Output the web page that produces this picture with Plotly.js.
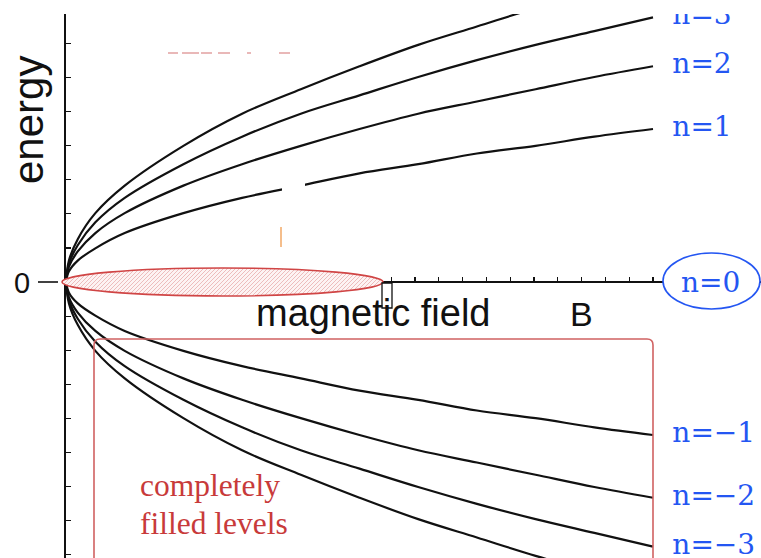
<!DOCTYPE html>
<html>
<head>
<meta charset="utf-8">
<script src="https://cdn.plot.ly/plotly-3.0.1.min.js"></script>
<style>
  html, body { margin: 0; padding: 0; background: #fff; }
  #chart { width: 761px; height: 558px; }
</style>
</head>
<body>
<div id="chart"></div>
<script>
// Landau-level energies versus magnetic field (B normalised to 1 at the right end)
const B = [0, 0.005, 0.02, 0.05, 0.1, 0.2, 0.3, 0.4, 0.5, 0.6, 0.7, 0.8, 0.9, 1.0];

const E_p1 = [0, 0.07, 0.14, 0.22, 0.32, 0.45, 0.55, 0.63, 0.71, 0.77, 0.84, 0.89, 0.95, 1.00];
const E_p2 = [0, 0.10, 0.20, 0.32, 0.45, 0.63, 0.77, 0.89, 1.00, 1.10, 1.18, 1.26, 1.34, 1.41];
const E_p3 = [0, 0.12, 0.24, 0.39, 0.55, 0.77, 0.95, 1.10, 1.22, 1.34, 1.45, 1.55, 1.64, 1.73];
const E_p4 = [0, 0.14, 0.28, 0.45, 0.63, 0.89, 1.10, 1.26, 1.41, 1.55, 1.67, 1.79, 1.90, 2.00];

const E_m1 = [0, -0.07, -0.14, -0.22, -0.32, -0.45, -0.55, -0.63, -0.71, -0.77, -0.84, -0.89, -0.95, -1.00];
const E_m2 = [0, -0.10, -0.20, -0.32, -0.45, -0.63, -0.77, -0.89, -1.00, -1.10, -1.18, -1.26, -1.34, -1.41];
const E_m3 = [0, -0.12, -0.24, -0.39, -0.55, -0.77, -0.95, -1.10, -1.22, -1.34, -1.45, -1.55, -1.64, -1.73];
const E_m4 = [0, -0.14, -0.28, -0.45, -0.63, -0.89, -1.10, -1.26, -1.41, -1.55, -1.67, -1.79, -1.90, -2.00];

const levelSeries = [E_p1, E_p2, E_p3, E_p4, E_m1, E_m2, E_m3, E_m4];

// level labels at the right-hand end of the drawn curves
const labelText = ['n=1', 'n=2', 'n=3', 'n=\u22121', 'n=\u22122', 'n=\u22123'];
const labelSeries = [E_p1, E_p2, E_p3, E_m1, E_m2, E_m3];

// ---- page geometry helpers (pixel -> paper fraction) ----
const W = 761, H = 558;
const M = { l: 66, r: 0, t: 14, b: 0 };
const plotW = W - M.l - M.r, plotH = H - M.t - M.b;
const px = x => (x - M.l) / plotW;
const py = y => (H - M.b - y) / plotH;

const BLUE = '#2456f2';
const RED_TXT = '#c83a3a';

const traces = levelSeries.map(E => ({
  type: 'scatter', mode: 'lines', x: B, y: E,
  line: { color: '#111', width: 2.2, shape: 'spline', smoothing: 1 },
  hoverinfo: 'skip'
}));

const labelX = 1.033;
traces.push({
  type: 'scatter', mode: 'text',
  x: labelText.map(() => labelX),
  y: labelSeries.map(E => E[E.length - 1]),
  text: labelText,
  textposition: 'middle right',
  textfont: { family: 'DejaVu Serif, serif', size: 28, color: BLUE },
  cliponaxis: true,
  hoverinfo: 'skip'
});

// rounded frame round the filled (negative) levels
const fx0 = px(94), fx1 = px(653), fyt = py(339), fyb = py(575);
const rx = 6 / plotW, ry = 6 / plotH;
const framePath = `M${fx0},${fyb} L${fx0},${fyt - ry} Q${fx0},${fyt} ${fx0 + rx},${fyt} ` +
                  `L${fx1 - rx},${fyt} Q${fx1},${fyt} ${fx1},${fyt - ry} L${fx1},${fyb}`;

const shapes = [
  // "0" tick dash left of the axis
  { type: 'line', xref: 'paper', yref: 'y', x0: px(38), x1: px(58), y0: 0, y1: 0,
    line: { color: '#111', width: 1.6 }, layer: 'above' },
  // hatched ellipse along the zero-energy level
  { type: 'circle', xref: 'paper', yref: 'paper', x0: px(62), x1: px(383), y0: py(296), y1: py(268),
    line: { color: '#d04545', width: 1.6 }, fillcolor: '#f8e0e0', layer: 'above' },
  // ellipse round the n=0 label
  { type: 'circle', xref: 'paper', yref: 'paper', x0: px(663), x1: px(760), y0: py(309), y1: py(253),
    line: { color: BLUE, width: 1.6 }, fillcolor: '#ffffff', layer: 'above' },
  // small marker box on the field axis
  { type: 'rect', xref: 'paper', yref: 'paper', x0: px(382), x1: px(392), y0: py(308), y1: py(283),
    line: { color: '#111', width: 1.3 }, fillcolor: '#ffffff', layer: 'above' },
  // frame
  { type: 'path', xref: 'paper', yref: 'paper', path: framePath,
    line: { color: '#d06262', width: 1.6 }, layer: 'above' },
  // blank patch over the n=1 curve
  { type: 'rect', xref: 'paper', yref: 'paper', x0: px(282), x1: px(305), y0: py(200), y1: py(172),
    line: { width: 0 }, fillcolor: '#ffffff', layer: 'above' },
  // short orange mark
  { type: 'line', xref: 'paper', yref: 'paper', x0: px(281), x1: px(281), y0: py(247), y1: py(227),
    line: { color: '#f2a866', width: 1.5 }, layer: 'above' }
];

// faint red dashes near the top
[[168, 178], [182, 199], [201, 212], [218, 230], [247, 251], [279, 290]].forEach(s => {
  shapes.push({ type: 'line', xref: 'paper', yref: 'paper', x0: px(s[0]), x1: px(s[1]), y0: py(53), y1: py(53),
    line: { color: 'rgba(214,120,120,0.7)', width: 1.5 }, layer: 'above' });
});

const sans = 'Liberation Sans, Arial, sans-serif';
const serif = 'Liberation Serif, Times New Roman, serif';
const note = (text, x, y, font, extra) => Object.assign({
  text, xref: 'paper', yref: 'paper', x: px(x), y: py(y),
  xanchor: 'center', yanchor: 'middle', showarrow: false, font
}, extra || {});

const annotations = [
  note('energy', 29, 120, { family: sans, size: 42, color: '#111' }, { textangle: -90 }),
  note('0', 22, 283, { family: sans, size: 29, color: '#111' }),
  note('magnetic field', 373, 313, { family: sans, size: 38, color: '#111' }),
  note('B', 581, 314, { family: sans, size: 34, color: '#111' }),
  note('completely', 138, 485, { family: serif, size: 31.5, color: RED_TXT }, { xanchor: 'left' }),
  note('filled levels', 138, 523, { family: serif, size: 31.5, color: RED_TXT }, { xanchor: 'left' }),
  note('n=0', 710, 282, { family: 'DejaVu Serif, serif', size: 28, color: BLUE })
];

const layout = {
  width: W, height: H,
  margin: { l: M.l, r: M.r, t: M.t, b: M.b, pad: 0 },
  paper_bgcolor: '#fff', plot_bgcolor: '#fff',
  showlegend: false,
  xaxis: {
    range: [0, plotW / 587], anchor: 'free', position: py(282),
    showline: false, showgrid: false, zeroline: false,
    ticks: 'inside', ticklen: 5, tickwidth: 1.2, tickcolor: '#111',
    tick0: 1, dtick: 0.04055, showticklabels: false, fixedrange: true
  },
  yaxis: {
    range: [-(H - 282) / 153, (282 - M.t) / 153],
    showline: true, linewidth: 2, linecolor: '#111', mirror: false,
    showgrid: false, zeroline: true, zerolinecolor: '#111', zerolinewidth: 1.6,
    ticks: 'inside', ticklen: 5, tickwidth: 1.2, tickcolor: '#111',
    tick0: 0, dtick: 0.2229, showticklabels: false, fixedrange: true
  },
  shapes: shapes,
  annotations: annotations
};

Plotly.newPlot('chart', traces, layout, { staticPlot: true, displayModeBar: false }).then(gd => {
  // diagonal hatch for the zero-level ellipse
  const svg = gd.querySelector('svg.main-svg');
  const NS = 'http://www.w3.org/2000/svg';
  let defs = svg.querySelector('defs');
  if (!defs) { defs = document.createElementNS(NS, 'defs'); svg.insertBefore(defs, svg.firstChild); }
  const pat = document.createElementNS(NS, 'pattern');
  pat.setAttribute('id', 'zeroHatch');
  pat.setAttribute('patternUnits', 'userSpaceOnUse');
  pat.setAttribute('width', '4'); pat.setAttribute('height', '4');
  const bg = document.createElementNS(NS, 'rect');
  bg.setAttribute('width', '4'); bg.setAttribute('height', '4'); bg.setAttribute('fill', '#fdf3f3');
  const ln = document.createElementNS(NS, 'path');
  ln.setAttribute('d', 'M-1,1 L1,-1 M0,4 L4,0 M3,5 L5,3');
  ln.setAttribute('stroke', '#ebb5b5'); ln.setAttribute('stroke-width', '0.9');
  pat.appendChild(bg); pat.appendChild(ln); defs.appendChild(pat);
  const el = gd.querySelector('.layer-above .shapelayer path[data-index="1"]');
  if (el) el.style.fill = 'url(#zeroHatch)';
});
</script>
</body>
</html>
